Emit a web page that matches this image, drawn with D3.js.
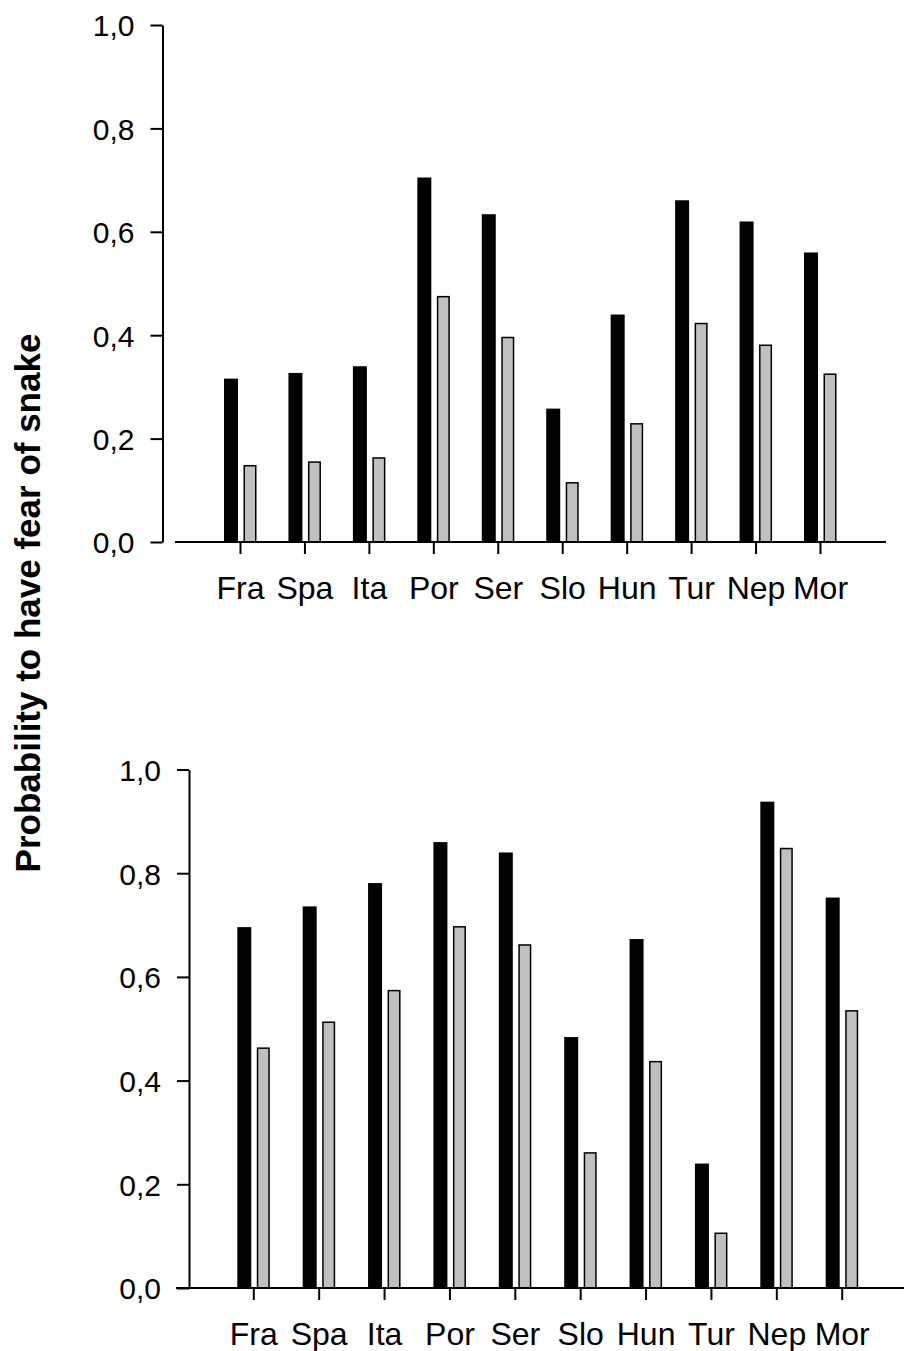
<!DOCTYPE html>
<html>
<head>
<meta charset="utf-8">
<script src="https://cdn.jsdelivr.net/npm/d3@7"></script>
<style>
  html, body { margin: 0; padding: 0; background: #fff; }
  svg { display: block; }
  text { font-family: "Liberation Sans", Arial, Helvetica, sans-serif; fill: #000; }
</style>
</head>
<body>
<svg id="chart" width="904" height="1351"></svg>
<script>
const categories = ["Fra", "Spa", "Ita", "Por", "Ser", "Slo", "Hun", "Tur", "Nep", "Mor"];
const topBlack    = [0.316, 0.327, 0.340, 0.705, 0.634, 0.258, 0.440, 0.661, 0.620, 0.560];
const topGray     = [0.149, 0.156, 0.164, 0.476, 0.397, 0.116, 0.230, 0.424, 0.382, 0.326];
const bottomBlack = [0.696, 0.736, 0.781, 0.860, 0.840, 0.484, 0.673, 0.240, 0.938, 0.753];
const bottomGray  = [0.464, 0.514, 0.575, 0.698, 0.663, 0.262, 0.438, 0.107, 0.849, 0.536];
const yTicks = [0, 0.2, 0.4, 0.6, 0.8, 1.0];
const yTitle = "Probability to have fear of snake";

const svg = d3.select("#chart");
const fmt = d => d3.format(".1f")(d).replace(".", ",");

const panels = [
  { black: topBlack, gray: topGray, axisX: 162.5, yTop: 25, yBottom: 542,
    xStart: 175, xEnd: 886, first: 240, last: 820, labelY: 599 },
  { black: bottomBlack, gray: bottomGray, axisX: 189, yTop: 769.5, yBottom: 1288,
    xStart: 176, xEnd: 904, first: 253.3, last: 841.7, labelY: 1345 }
];

panels.forEach(p => {
  const y = d3.scaleLinear().domain([0, 1]).range([p.yBottom, p.yTop]);
  const x = d3.scalePoint().domain(categories).range([p.first, p.last]);
  const g = svg.append("g");

  // bars
  g.selectAll("rect.black").data(categories).join("rect")
    .attr("class", "black")
    .attr("x", d => x(d) - 16)
    .attr("width", 14)
    .attr("y", (d, i) => y(p.black[i]))
    .attr("height", (d, i) => p.yBottom - y(p.black[i]))
    .attr("fill", "#000");

  g.selectAll("rect.gray").data(categories).join("rect")
    .attr("class", "gray")
    .attr("x", d => x(d) + 4.25)
    .attr("width", 11.5)
    .attr("y", (d, i) => y(p.gray[i]) + 0.75)
    .attr("height", (d, i) => p.yBottom - y(p.gray[i]) - 0.75)
    .attr("fill", "#c0c0c0")
    .attr("stroke", "#000")
    .attr("stroke-width", 1.5);

  // y axis
  const ya = g.append("g")
    .attr("transform", `translate(${p.axisX},0)`)
    .call(d3.axisLeft(y).tickValues(yTicks).tickFormat(fmt)
      .tickSize(12).tickSizeOuter(0).tickPadding(16));
  ya.selectAll("path, line").attr("stroke", "#000").attr("stroke-width", 2);
  ya.selectAll("text").attr("font-size", 30).attr("dy", "0.36em");

  // x axis
  const xa = g.append("g")
    .attr("transform", `translate(0,${p.yBottom})`)
    .call(d3.axisBottom(x).tickSize(12).tickSizeOuter(0));
  xa.select(".domain").remove();
  xa.append("line")
    .attr("x1", p.xStart).attr("x2", p.xEnd)
    .attr("y1", 0).attr("y2", 0)
    .attr("stroke", "#000").attr("stroke-width", 2);
  xa.selectAll("line").attr("stroke", "#000").attr("stroke-width", 2);
  xa.selectAll("text")
    .attr("font-size", 32)
    .attr("y", p.labelY - p.yBottom)
    .attr("dy", 0);
});

svg.append("text")
  .attr("transform", "translate(40,603) rotate(-90)")
  .attr("text-anchor", "middle")
  .attr("font-size", 35)
  .attr("font-weight", "bold")
  .text(yTitle);
</script>
</body>
</html>
